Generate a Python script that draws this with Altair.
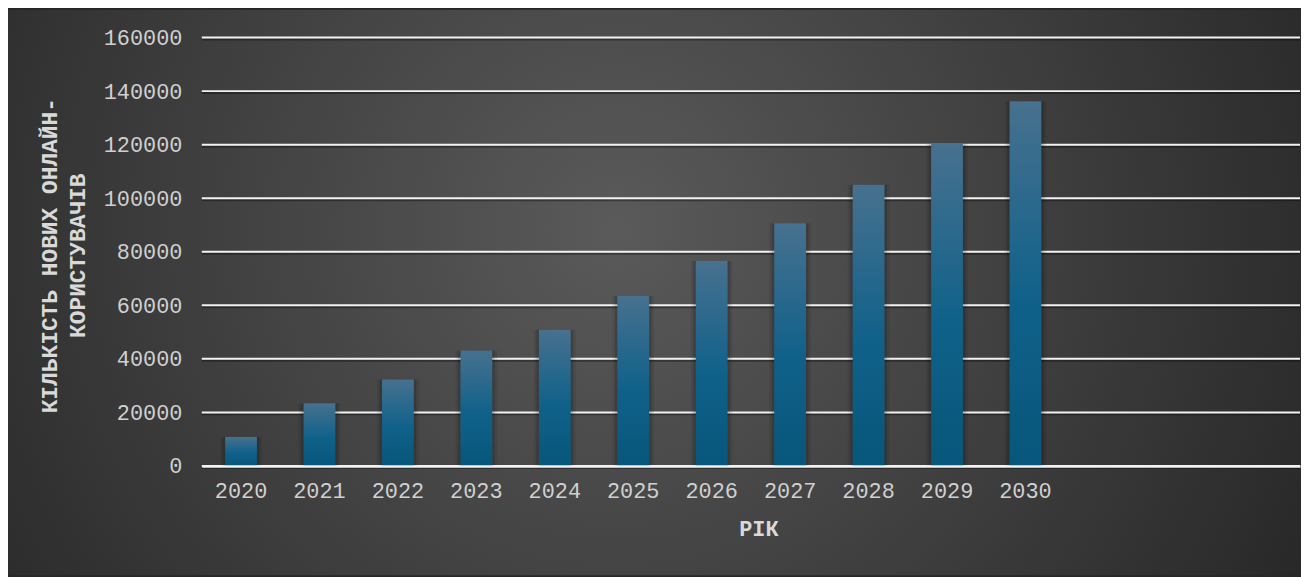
import altair as alt
import pandas as pd

years = ["2020", "2021", "2022", "2023", "2024", "2025", "2026", "2027", "2028", "2029", "2030"]
values = [10800, 23400, 32300, 43100, 50900, 63500, 76500, 90600, 105000, 120300, 136200]
empty_slots = ["_1", "_2", "_3"]
y_ticks = [0, 20000, 40000, 60000, 80000, 100000, 120000, 140000, 160000]

y_title = ["КІЛЬКІСТЬ НОВИХ ОНЛАЙН-", "КОРИСТУВАЧІВ"]
x_title = "РІК"

df = pd.DataFrame({"year": years, "value": values})
ticks_df = pd.DataFrame({"t": y_ticks})

FONT = "Liberation Mono"
W, H = 1105, 431
PL, PT, PR, PB = 195, 28, 1, 110

x_scale = alt.Scale(domain=years + empty_slots, paddingInner=0.595, paddingOuter=0.2975)
y_scale = alt.Scale(domain=[0, 160000], nice=False)

x_axis = alt.Axis(
    title=x_title, labelExpr="slice(datum.label,0,1)=='_' ? '' : datum.label",
    labelAngle=0, labelAlign="center", labelBaseline="top",
    ticks=False, domain=True, domainColor="#f2f2f2", domainWidth=2.5,
    labelFont=FONT, labelFontSize=22, labelColor="#d0d0d0", labelPadding=15,
    titleFont=FONT, titleFontSize=22, titleFontWeight="bold", titleColor="#d9d9d9",
    titleX=560, titleY=63, titleBaseline="middle", titleAnchor="start", titleAlign="center",
    grid=False, zindex=1,
)
y_axis = alt.Axis(
    values=y_ticks, format="d", title=y_title, grid=False,
    domain=False, ticks=False, labelFont=FONT, labelFontSize=22, labelColor="#d0d0d0",
    labelPadding=20, labelAlign="right", labelBaseline="middle",
    titleFont=FONT, titleFontSize=23, titleFontWeight="bold",
    titleColor="#d9d9d9", titleX=-153, titleY=219, titleAngle=270,
    titleBaseline="middle", titleAlign="center", titleLineHeight=28, zindex=1,
)

bg = alt.Chart(pd.DataFrame({"k": [0]})).mark_rect(
    color=alt.RadialGradient(
        gradient="radial",
        stops=[alt.GradientStop(offset=0, color="#5a5a5a"),
               alt.GradientStop(offset=1, color="#262626")],
        x1=0.47, y1=0.45, r1=0, x2=0.47, y2=0.45, r2=0.62,
    )
).encode(
    x=alt.value(-PL), x2=alt.value(W + PR), y=alt.value(-PT), y2=alt.value(H + PB)
)

grid_shadow = alt.Chart(ticks_df).mark_rule(color="black", opacity=0.35, strokeWidth=2, yOffset=2).encode(
    y=alt.Y("t:Q", scale=y_scale, axis=y_axis)
)
grid = alt.Chart(ticks_df).mark_rule(color="#f2f2f2", strokeWidth=2).encode(
    y=alt.Y("t:Q", scale=y_scale, axis=y_axis)
)

shadow1 = alt.Chart(df).mark_bar(size=42, color="black", opacity=0.08).encode(
    x=alt.X("year:N", scale=x_scale, sort=None, axis=x_axis),
    y=alt.Y("value:Q", scale=y_scale, axis=y_axis),
)
shadow2 = alt.Chart(df).mark_bar(size=37, color="black", opacity=0.14).encode(
    x=alt.X("year:N", scale=x_scale, sort=None, axis=x_axis),
    y=alt.Y("value:Q", scale=y_scale, axis=y_axis),
)

bars = alt.Chart(df).mark_bar(
    color=alt.LinearGradient(
        gradient="linear",
        stops=[alt.GradientStop(offset=0, color="#47718f"),
               alt.GradientStop(offset=0.55, color="#10618a"),
               alt.GradientStop(offset=1, color="#07567b")],
        x1=0, x2=0, y1=0, y2=1,
    )
).encode(
    x=alt.X("year:N", scale=x_scale, sort=None, axis=x_axis),
    y=alt.Y("value:Q", scale=y_scale, axis=y_axis),
)

chart = alt.layer(bg, grid_shadow, grid, shadow1, shadow2, bars).properties(
    width=W, height=H,
    autosize=alt.AutoSizeParams(type="none"),
    padding={"left": PL, "top": PT, "right": PR, "bottom": PB},
    background="#262626",
).configure_view(stroke=None)

chart.save("out.html", embed_options={"renderer": "svg", "actions": False})
